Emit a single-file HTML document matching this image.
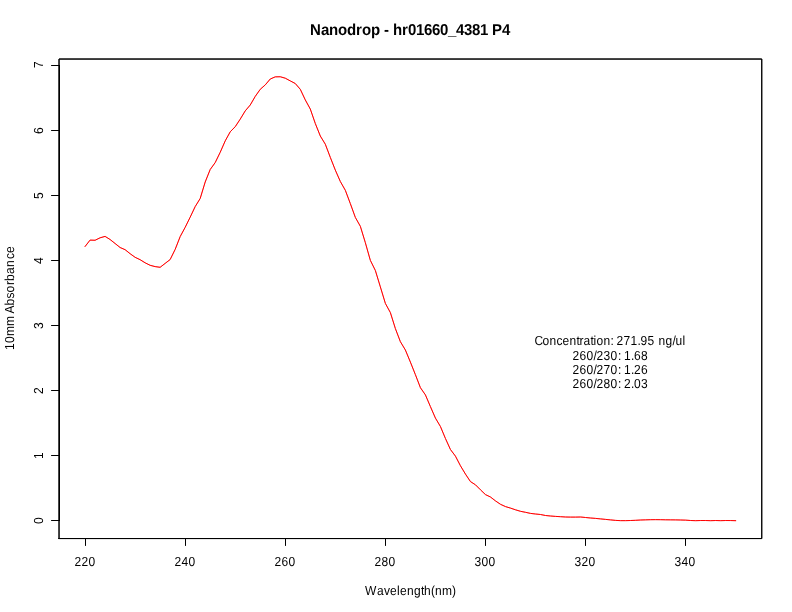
<!DOCTYPE html>
<html lang="en">
<head>
<meta charset="utf-8">
<title>Nanodrop - hr01660_4381 P4</title>
<style>
html,body{margin:0;padding:0;background:#fff;}
body{width:792px;height:612px;overflow:hidden;}
svg{display:block;}
text{font-family:"Liberation Sans",sans-serif;fill:#000;white-space:pre;text-rendering:geometricPrecision;}
.t12{font-size:12px;}
.main{font-size:15px;font-weight:bold;}
.ln{stroke:#000;stroke-width:1;fill:none;stroke-linecap:round;stroke-linejoin:round;}
.curve{stroke:#ff0000;stroke-width:1;fill:none;stroke-linecap:round;stroke-linejoin:round;}
</style>
</head>
<body>
<svg width="792" height="612" viewBox="0 0 792 612">
<rect x="0" y="0" width="792" height="612" fill="#ffffff"/>
<!-- absorbance spectrum 220-350nm -->
<polyline class="curve" points="85.07,246.50 90.07,240.10 95.08,240.25 100.08,237.80 105.09,236.40 110.09,239.50 115.10,243.50 120.10,247.50 125.11,249.70 130.11,253.70 135.12,257.30 140.12,259.70 145.13,262.80 150.13,265.30 155.14,266.60 160.14,267.30 165.15,263.40 170.15,259.55 175.16,249.40 180.16,236.60 185.17,227.35 190.17,217.20 195.18,206.60 200.18,198.50 205.19,182.00 210.19,169.50 215.20,162.60 220.21,152.30 225.21,140.90 230.22,131.80 235.22,126.70 240.23,119.15 245.23,110.90 250.24,105.00 255.24,96.40 260.25,89.30 265.25,84.90 270.26,79.00 275.26,76.85 280.27,76.75 285.27,78.20 290.28,80.90 295.28,83.50 300.29,89.30 305.29,99.90 310.30,109.05 315.30,123.50 320.31,136.00 325.31,144.20 330.32,157.40 335.32,170.10 340.33,181.50 345.33,190.30 350.34,203.60 355.34,217.40 360.35,226.30 365.35,242.70 370.36,260.40 375.36,270.50 380.37,286.90 385.37,303.40 390.38,312.60 395.38,328.60 400.39,341.70 405.39,350.00 410.40,362.10 415.41,374.70 420.41,387.70 425.42,394.90 430.42,406.60 435.43,418.10 440.43,426.50 445.44,438.50 450.44,449.50 455.45,456.15 460.45,465.75 465.46,474.10 470.46,481.60 475.47,484.80 480.47,489.80 485.48,494.60 490.48,497.00 495.49,500.90 500.49,504.30 505.50,506.60 510.50,508.10 515.51,509.80 520.51,511.30 525.52,512.30 530.52,513.40 535.53,514.00 540.53,514.50 545.54,515.50 550.54,516.00 555.55,516.40 560.55,516.70 565.56,517.00 570.56,517.10 575.57,517.10 580.57,517.00 585.58,517.50 590.58,518.00 595.59,518.40 600.59,518.90 605.60,519.40 610.61,519.90 615.61,520.40 620.62,520.65 625.62,520.65 630.63,520.50 635.63,520.30 640.64,520.00 645.64,519.85 650.65,519.70 655.65,519.65 660.66,519.70 665.66,519.80 670.67,519.85 675.67,519.90 680.68,520.00 685.68,520.15 690.69,520.50 695.69,520.68 700.70,520.52 705.70,520.52 710.71,520.68 715.71,520.52 720.72,520.66 725.72,520.52 730.73,520.55 735.73,520.68"/>
<polyline class="curve" stroke-opacity="0.4" points="85.07,246.50 90.07,240.10 95.08,240.25 100.08,237.80 105.09,236.40 110.09,239.50 115.10,243.50 120.10,247.50 125.11,249.70 130.11,253.70 135.12,257.30 140.12,259.70 145.13,262.80 150.13,265.30 155.14,266.60 160.14,267.30 165.15,263.40 170.15,259.55 175.16,249.40 180.16,236.60 185.17,227.35 190.17,217.20 195.18,206.60 200.18,198.50 205.19,182.00 210.19,169.50 215.20,162.60 220.21,152.30 225.21,140.90 230.22,131.80 235.22,126.70 240.23,119.15 245.23,110.90 250.24,105.00 255.24,96.40 260.25,89.30 265.25,84.90 270.26,79.00 275.26,76.85 280.27,76.75 285.27,78.20 290.28,80.90 295.28,83.50 300.29,89.30 305.29,99.90 310.30,109.05 315.30,123.50 320.31,136.00 325.31,144.20 330.32,157.40 335.32,170.10 340.33,181.50 345.33,190.30 350.34,203.60 355.34,217.40 360.35,226.30 365.35,242.70 370.36,260.40 375.36,270.50 380.37,286.90 385.37,303.40 390.38,312.60 395.38,328.60 400.39,341.70 405.39,350.00 410.40,362.10 415.41,374.70 420.41,387.70 425.42,394.90 430.42,406.60 435.43,418.10 440.43,426.50 445.44,438.50 450.44,449.50 455.45,456.15 460.45,465.75 465.46,474.10 470.46,481.60 475.47,484.80 480.47,489.80 485.48,494.60 490.48,497.00 495.49,500.90 500.49,504.30 505.50,506.60 510.50,508.10 515.51,509.80 520.51,511.30 525.52,512.30 530.52,513.40 535.53,514.00 540.53,514.50 545.54,515.50 550.54,516.00 555.55,516.40 560.55,516.70 565.56,517.00 570.56,517.10 575.57,517.10 580.57,517.00 585.58,517.50 590.58,518.00 595.59,518.40 600.59,518.90 605.60,519.40 610.61,519.90 615.61,520.40 620.62,520.65 625.62,520.65 630.63,520.50 635.63,520.30 640.64,520.00 645.64,519.85 650.65,519.70 655.65,519.65 660.66,519.70 665.66,519.80 670.67,519.85 675.67,519.90 680.68,520.00 685.68,520.15 690.69,520.50 695.69,520.68 700.70,520.52 705.70,520.52 710.71,520.68 715.71,520.52 720.72,520.66 725.72,520.52 730.73,520.55 735.73,520.68"/>
<!-- plot box -->
<path class="ln" d="M59.04 538.56L761.76 538.56L761.76 59.04L59.04 59.04L59.04 538.56Z"/>
<path class="ln" d="M59.04 538.56L761.76 538.56L761.76 59.04L59.04 59.04L59.04 538.56Z"/>
<!-- x axis -->
<path class="ln" d="M85.5 538.5H685.5M85.5 538.5V545.5M185.5 538.5V545.5M285.5 538.5V545.5M385.5 538.5V545.5M485.5 538.5V545.5M585.5 538.5V545.5M685.5 538.5V545.5"/>
<!-- y axis -->
<path class="ln" d="M59.5 520.5V65.5M59.5 520.5H51.5M59.5 455.5H51.5M59.5 390.5H51.5M59.5 325.5H51.5M59.5 260.5H51.5M59.5 195.5H51.5M59.5 130.5H51.5M59.5 65.5H51.5"/>
<g opacity="0.999">
<text class="t12" transform="translate(74.5 566) scale(1 1.09)" x="0 7 14" y="0">220</text>
<text class="t12" transform="translate(174.5 566) scale(1 1.09)" x="0 7 14" y="0">240</text>
<text class="t12" transform="translate(274.5 566) scale(1 1.09)" x="0 7 14" y="0">260</text>
<text class="t12" transform="translate(374.5 566) scale(1 1.09)" x="0 7 14" y="0">280</text>
<text class="t12" transform="translate(474.5 566) scale(1 1.09)" x="0 7 14" y="0">300</text>
<text class="t12" transform="translate(574.5 566) scale(1 1.09)" x="0 7 14" y="0">320</text>
<text class="t12" transform="translate(674.5 566) scale(1 1.09)" x="0 7 14" y="0">340</text>
<text class="t12" transform="translate(43 524) rotate(-90) scale(1 1.09)" x="0" y="0">0</text>
<text class="t12" transform="translate(43 459) rotate(-90) scale(1 1.09)" x="0" y="0">1</text>
<text class="t12" transform="translate(43 394) rotate(-90) scale(1 1.09)" x="0" y="0">2</text>
<text class="t12" transform="translate(43 329) rotate(-90) scale(1 1.09)" x="0" y="0">3</text>
<text class="t12" transform="translate(43 264) rotate(-90) scale(1 1.09)" x="0" y="0">4</text>
<text class="t12" transform="translate(43 199) rotate(-90) scale(1 1.09)" x="0" y="0">5</text>
<text class="t12" transform="translate(43 134) rotate(-90) scale(1 1.09)" x="0" y="0">6</text>
<text class="t12" transform="translate(43 68) rotate(-90) scale(1 1.09)" x="0" y="0">7</text>
<text class="main" transform="translate(310 35) scale(1 1.055)" x="0 11 19 28 37 46 52 61 70 74 79 83 92 98 106 114 122 130 138 146 154 162 170 178 182 192" y="0">Nanodrop - hr01660_4381 P4</text>
<text class="t12" transform="translate(365 595) scale(1 1.09)" x="0 12 19 25 32 35 42 49 56 59 66 70 77 87" y="0">Wavelength(nm)</text>
<text class="t12" transform="translate(14 350) rotate(-90) scale(1 1.09)" x="0 7 14 24 34 36.5 44.5 51.5 57.5 65 69 76 83 91 97" y="0">10mm Absorbance</text>
<text class="t12" transform="translate(534.5 345) scale(1 1.09)" x="0 8 15 22 28 35 42 45 49 56 59 62 69 76 79 82 89 96 103 106 113 120 124 131 138 141 148" y="0">Concentration: 271.95 ng/ul</text>
<text class="t12" transform="translate(572.5 360) scale(1 1.09)" x="0 7 14 21 24 31 38 45.5 48 51.5 58.5 61.5 68.5" y="0">260/230: 1.68</text>
<text class="t12" transform="translate(572.5 374) scale(1 1.09)" x="0 7 14 21 24 31 38 45.5 48 51.5 58.5 61.5 68.5" y="0">260/270: 1.26</text>
<text class="t12" transform="translate(572.5 388) scale(1 1.09)" x="0 7 14 21 24 31 38 45.5 48 51.5 58.5 61.5 68.5" y="0">260/280: 2.03</text>
</g>
</svg>
</body>
</html>
